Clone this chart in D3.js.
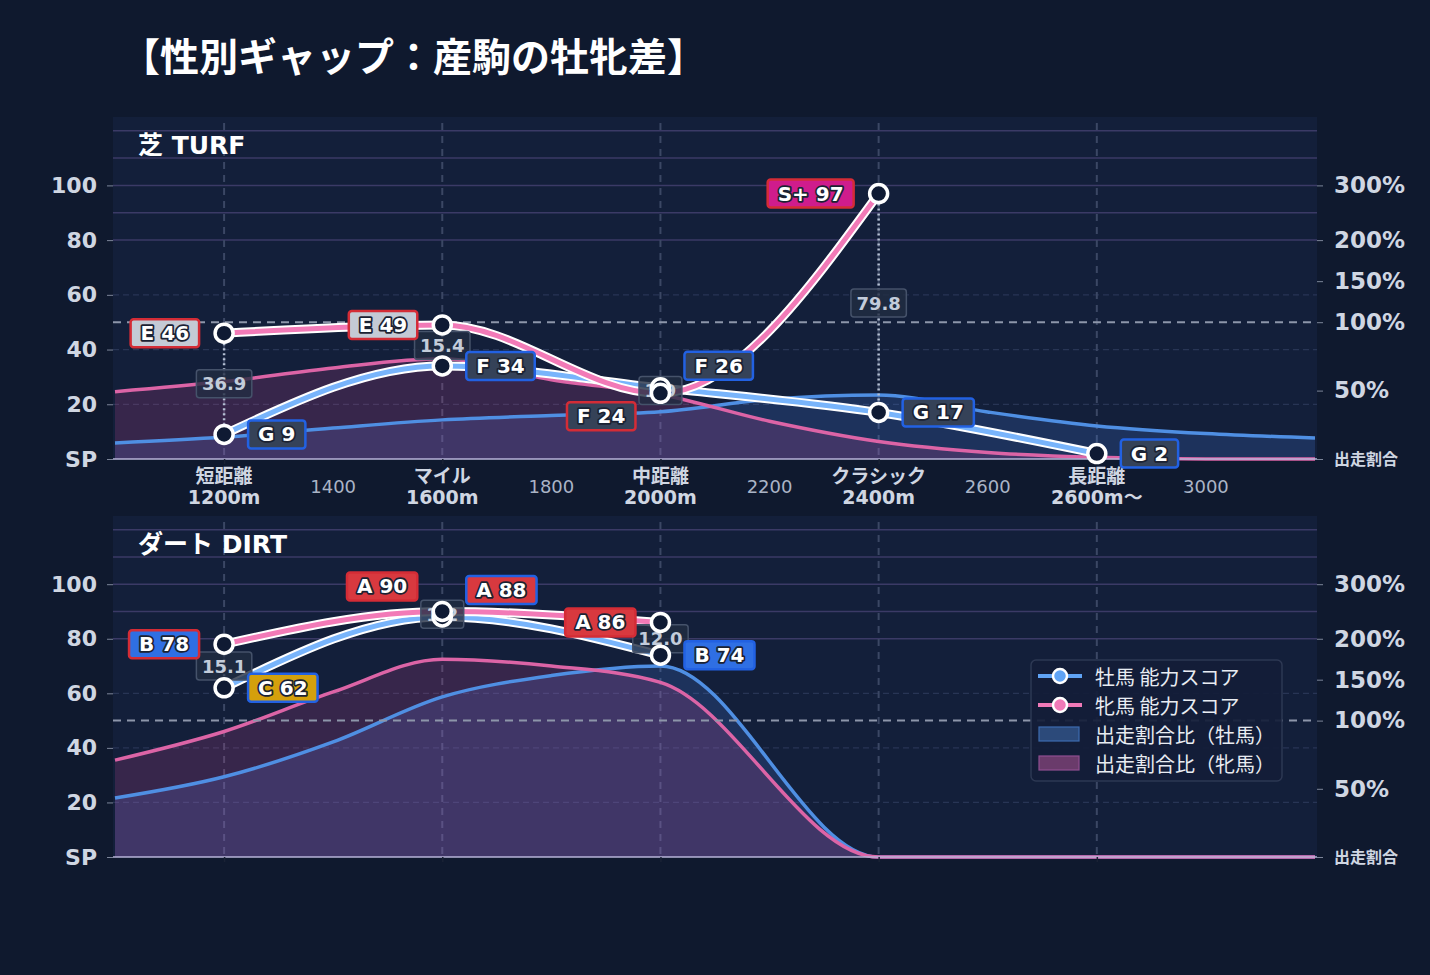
<!DOCTYPE html>
<html lang="ja">
<head>
<meta charset="UTF-8">
<script src="https://d3js.org/d3.v7.min.js"></script>
<style>
  body { margin: 0; background: #0f192e; }
  svg { display: block; font-family: "DejaVu Sans", "Noto Sans CJK JP", sans-serif; }
</style>
</head>
<body>
<svg id="chart" width="1430" height="975"></svg>
<script>
// distance categories
const catDist = [1200, 1600, 2000, 2400, 2800];
const catName = ["短距離", "マイル", "中距離", "クラシック", "長距離"];
const catSub = ["1200m", "1600m", "2000m", "2400m", "2600m〜"];
const minorDist = [1400, 1800, 2200, 2600, 3000];

// 出走割合比 (%) every 200m, null = no sample
const ratioDist = [1000, 1200, 1400, 1600, 1800, 2000, 2200, 2400, 2600, 2800, 3000, 3200];
const turfMaleRatio = [11.7, 16.0, 22.6, 28.6, 31.8, 34.6, 43.6, 46.8, 34.4, 24.2, 18.6, 15.4];
const turfFemaleRatio = [49.2, 56.6, 66.6, 73.2, 58.0, 47.2, 27.6, 12.8, 4.8, 1.2, 0, 0];
const dirtMaleRatio = [43.2, 58.8, 84.4, 129, 155, 166.7, null, 0, 0, 0, 0, 0];
const dirtFemaleRatio = [71, 92, 135, 175, 166.7, 146.7, null, 0, 0, 0, 0, 0];

// 能力スコア per category
const turfMaleScore = [9, 34, 26, 17, 2];
const turfMaleRank = ["G", "F", "F", "G", "G"];
const turfFemaleScore = [46, 49, 24, 97, null];
const turfFemaleRank = ["E", "E", "F", "S+", null];
const dirtMaleScore = [62, 88, 74, null, null];
const dirtMaleRank = ["C", "A", "B", null, null];
const dirtFemaleScore = [78, 90, 86, null, null];
const dirtFemaleRank = ["B", "A", "A", null, null];
const turfGap = [36.9, 15.4, 1.9, 79.8, null];
const dirtGap = [15.1, 1.2, 12.0, null, null];

// axis ticks
const scoreTicks = [0, 20, 40, 60, 80, 100];
const ratioTicks = [0, 50, 100, 150, 200, 300];
const ratioTickScore = [0, 25, 50, 65, 80, 100];
const bandLines = [80, 90, 100, 110, 120];
const dashLines = [20, 40, 60];

const rankFill = { "S+": "#cf1c8c", "A": "#d8393f", "B": "#2f6fe4", "C": "#d4a00c", "E": "#c4cad5", "F": "#354258", "G": "#354258" };
const maleBorder = "#2261e2", femaleBorder = "#d42c36";

const svg = d3.select("#chart");
const plotL = 113, plotR = 1317;
const x = d3.scaleLinear().domain([1000, 3200]).range([115, 1315]);

svg.append("text")
  .attr("x", 121).attr("y", 54)
  .attr("dominant-baseline", "central")
  .attr("font-family", "Noto Sans CJK JP")
  .attr("font-size", 39).attr("font-weight", "bold")
  .attr("fill", "#ffffff")
  .text("【性別ギャップ：産駒の牡牝差】");

const panels = [
  { title: "芝 TURF", top: 117, base: 459, maleR: turfMaleRatio, femaleR: turfFemaleRatio,
    maleS: turfMaleScore, maleK: turfMaleRank, femaleS: turfFemaleScore, femaleK: turfFemaleRank,
    gap: turfGap, showX: true, nudgeF: [0, 0, 23, 0, 0], nudgeM: [0, 0, -22, 0, 0] },
  { title: "ダート DIRT", top: 516, base: 857, maleR: dirtMaleRatio, femaleR: dirtFemaleRatio,
    maleS: dirtMaleScore, maleK: dirtMaleRank, femaleS: dirtFemaleScore, femaleK: dirtFemaleRank,
    gap: dirtGap, showX: false, nudgeF: [0, -25, 0, 0, 0], nudgeM: [0, -27, 0, 0, 0] }
];

panels.forEach(p => {
  const g = svg.append("g");
  const y = d3.scaleLinear().domain([0, 125]).range([p.base, p.top]);
  const yr = d3.scaleLinear().domain(ratioTicks).range(ratioTickScore.map(y));

  g.append("rect").attr("x", plotL).attr("y", p.top)
    .attr("width", plotR - plotL).attr("height", p.base - p.top).attr("fill", "#131f3a");

  // grid
  g.selectAll(".band").data(bandLines).join("line")
    .attr("x1", plotL).attr("x2", plotR).attr("y1", d => y(d)).attr("y2", d => y(d))
    .attr("stroke", "#3b3a66").attr("stroke-width", 1.5);
  g.selectAll(".dgrid").data(dashLines).join("line")
    .attr("x1", plotL).attr("x2", plotR).attr("y1", d => y(d)).attr("y2", d => y(d))
    .attr("stroke", "#283555").attr("stroke-width", 1.3).attr("stroke-dasharray", "6,4");
  g.selectAll(".vgrid").data(catDist).join("line")
    .attr("x1", d => x(d)).attr("x2", d => x(d)).attr("y1", p.top + 6).attr("y2", p.base)
    .attr("stroke", "#3b4764").attr("stroke-width", 2).attr("stroke-dasharray", "7,6");

  // ratio areas (skip missing samples)
  const pairs = arr => ratioDist.map((d, i) => [d, arr[i]]).filter(q => q[1] != null);
  const area = d3.area().curve(d3.curveMonotoneX)
    .x(q => x(q[0])).y0(p.base).y1(q => yr(q[1]));
  const line = d3.line().curve(d3.curveMonotoneX)
    .x(q => x(q[0])).y(q => yr(q[1]));
  g.append("path").datum(pairs(p.maleR)).attr("d", area).attr("fill", "rgba(70,130,230,0.2)");
  g.append("path").datum(pairs(p.femaleR)).attr("d", area).attr("fill", "rgba(236,80,160,0.17)");
  g.append("path").datum(pairs(p.maleR)).attr("d", line).attr("fill", "none")
    .attr("stroke", "#4f8fe3").attr("stroke-width", 3.5);
  g.append("path").datum(pairs(p.femaleR)).attr("d", line).attr("fill", "none")
    .attr("stroke", "#dc64a6").attr("stroke-width", 3.5);

  // 100% reference
  g.append("line").attr("x1", plotL).attr("x2", plotR).attr("y1", y(50)).attr("y2", y(50))
    .attr("stroke", "#8d96aa").attr("stroke-width", 2).attr("stroke-dasharray", "8,6");
  g.append("line").attr("x1", plotL).attr("x2", plotR).attr("y1", p.base).attr("y2", p.base)
    .attr("stroke", "#b7b4d8").attr("stroke-width", 1.5);

  // axes
  const ax = g.append("g").attr("transform", `translate(${plotL},0)`)
    .call(d3.axisLeft(y).tickValues(scoreTicks).tickSize(6).tickPadding(10)
      .tickFormat(d => d === 0 ? "SP" : d));
  const ar = g.append("g").attr("transform", `translate(${plotR},0)`)
    .call(d3.axisRight(yr).tickValues(ratioTicks).tickSize(6).tickPadding(11)
      .tickFormat(d => d === 0 ? "出走割合" : d + "%"));
  [ax, ar].forEach(a => {
    a.select(".domain").remove();
    a.selectAll("line").attr("stroke", "#7c8599");
    a.selectAll("text").attr("fill", "#cfd6e2").attr("font-weight", "bold")
      .attr("font-family", "DejaVu Sans, Noto Sans CJK JP");
  });
  ax.selectAll("text").attr("font-size", 22);
  ar.selectAll("text").attr("font-size", 23);
  ar.selectAll("text").filter(d => d === 0).attr("font-size", 16)
    .attr("font-family", "Noto Sans CJK JP");

  const axb = g.append("g").attr("transform", `translate(0,${p.base})`)
    .call(d3.axisBottom(x).tickValues(catDist).tickSize(5).tickFormat(""));
  axb.select(".domain").remove();
  axb.selectAll("line").attr("stroke", "#1a2235").attr("stroke-width", 1.5);

  if (p.showX) {
    const majors = g.selectAll(".xmaj").data(catDist).join("text")
      .attr("x", d => x(d)).attr("text-anchor", "middle")
      .attr("fill", "#cfd6e2").attr("font-size", 19).attr("font-weight", "bold");
    majors.append("tspan").attr("x", d => x(d)).attr("y", p.base + 15)
      .attr("dominant-baseline", "central").attr("font-family", "Noto Sans CJK JP")
      .text((d, i) => catName[i]);
    majors.append("tspan").attr("x", d => x(d)).attr("y", p.base + 38)
      .attr("dominant-baseline", "central")
      .text((d, i) => catSub[i]);
    g.selectAll(".xmin").data(minorDist).join("text")
      .attr("x", d => x(d)).attr("y", p.base + 27).attr("text-anchor", "middle")
      .attr("dominant-baseline", "central")
      .attr("fill", "#aab4c6").attr("font-size", 18)
      .text(d => d);
  }

  g.append("text").attr("x", 138).attr("y", p.top + 28)
    .attr("dominant-baseline", "central").attr("fill", "#ffffff")
    .attr("font-size", 25).attr("font-weight", "bold").text(p.title);

  // gap connectors
  const gaps = catDist.map((d, i) => ({ d, i, v: p.gap[i] })).filter(o => o.v != null);
  g.selectAll(".gapline").data(gaps).join("line")
    .attr("x1", o => x(o.d)).attr("x2", o => x(o.d))
    .attr("y1", o => y(p.femaleS[o.i])).attr("y2", o => y(p.maleS[o.i]))
    .attr("stroke", "#b4bfd2").attr("stroke-width", 2.5).attr("stroke-dasharray", "2,3");

  // score lines
  const sLine = d3.line().curve(d3.curveMonotoneX).defined(d => d != null)
    .x((d, i) => x(catDist[i])).y(d => y(d));
  [[p.maleS, "#78b4fb"], [p.femaleS, "#f27ab7"]].forEach(([s, c]) => {
    g.append("path").datum(s).attr("d", sLine).attr("fill", "none")
      .attr("stroke", "#ffffff").attr("stroke-width", 9);
    g.append("path").datum(s).attr("d", sLine).attr("fill", "none")
      .attr("stroke", c).attr("stroke-width", 5);
  });

  // gap boxes
  gaps.forEach(o => {
    const cy = (y(p.femaleS[o.i]) + y(p.maleS[o.i])) / 2;
    const gg = g.append("g");
    const t = gg.append("text").attr("x", x(o.d)).attr("y", cy)
      .attr("text-anchor", "middle").attr("dominant-baseline", "central")
      .attr("fill", "#c3ccda").attr("font-size", 18).attr("font-weight", "bold")
      .text(o.v.toFixed(1));
    const w = t.node().getComputedTextLength() + 11;
    gg.insert("rect", "text").attr("x", x(o.d) - w / 2).attr("y", cy - 14)
      .attr("width", w).attr("height", 28).attr("rx", 3)
      .attr("fill", "rgba(34,45,66,0.8)").attr("stroke", "#45526a").attr("stroke-width", 1.5);
  });

  // points
  const pts = [];
  catDist.forEach((d, i) => {
    if (p.maleS[i] != null) pts.push({ d, i, v: p.maleS[i], k: p.maleK[i], sex: "m" });
    if (p.femaleS[i] != null) pts.push({ d, i, v: p.femaleS[i], k: p.femaleK[i], sex: "f" });
  });
  g.selectAll(".pt").data(pts).join("circle")
    .attr("cx", o => x(o.d)).attr("cy", o => y(o.v)).attr("r", 9)
    .attr("fill", "#0f1a33").attr("stroke", "#ffffff").attr("stroke-width", 3.5);

  // rank labels
  pts.forEach(o => {
    const isM = o.sex === "m";
    const cy = y(o.v) + (isM ? p.nudgeM[o.i] : p.nudgeF[o.i]);
    const gg = g.append("g");
    const t = gg.append("text").attr("y", cy).attr("dominant-baseline", "central")
      .attr("font-size", 20).attr("font-weight", "bold").attr("fill", "#ffffff")
      .attr("stroke", "#1b2233").attr("stroke-width", 3.5).attr("paint-order", "stroke")
      .attr("stroke-linejoin", "round")
      .text(`${o.k} ${o.v}`);
    const w = t.node().getComputedTextLength() + 20;
    const bx = isM ? x(o.d) + 24 : x(o.d) - 25 - w;
    t.attr("x", bx + 10);
    gg.insert("rect", "text").attr("x", bx).attr("y", cy - 14).attr("width", w).attr("height", 28)
      .attr("rx", 3).attr("fill", rankFill[o.k])
      .attr("stroke", isM ? maleBorder : femaleBorder).attr("stroke-width", 2.5);
  });
});

// legend
const lg = svg.append("g").attr("transform", "translate(1031,660)");
lg.append("rect").attr("width", 251).attr("height", 121).attr("rx", 5)
  .attr("fill", "rgba(19,29,56,0.92)").attr("stroke", "#2d3853").attr("stroke-width", 1.5);
const legendItems = [
  { type: "line", color: "#5fa3f5", label: "牡馬 能力スコア" },
  { type: "line", color: "#f07ab8", label: "牝馬 能力スコア" },
  { type: "patch", color: "#2c4a7a", edge: "#3d6cb0", label: "出走割合比（牡馬）" },
  { type: "patch", color: "#6a3b6b", edge: "#8f4f90", label: "出走割合比（牝馬）" }
];
legendItems.forEach((it, i) => {
  const cy = 16 + i * 29;
  if (it.type === "line") {
    lg.append("line").attr("x1", 7).attr("x2", 51).attr("y1", cy).attr("y2", cy)
      .attr("stroke", it.color).attr("stroke-width", 4);
    lg.append("circle").attr("cx", 29).attr("cy", cy).attr("r", 7)
      .attr("fill", it.color).attr("stroke", "#ffffff").attr("stroke-width", 2.5);
  } else {
    lg.append("rect").attr("x", 8).attr("y", cy - 7).attr("width", 40).attr("height", 14)
      .attr("fill", it.color).attr("stroke", it.edge).attr("stroke-width", 1.2);
  }
  lg.append("text").attr("x", 64).attr("y", cy).attr("dominant-baseline", "central")
    .attr("font-family", "Noto Sans CJK JP").attr("font-size", 20)
    .attr("fill", "#e8ecf2").text(it.label);
});
</script>
</body>
</html>
